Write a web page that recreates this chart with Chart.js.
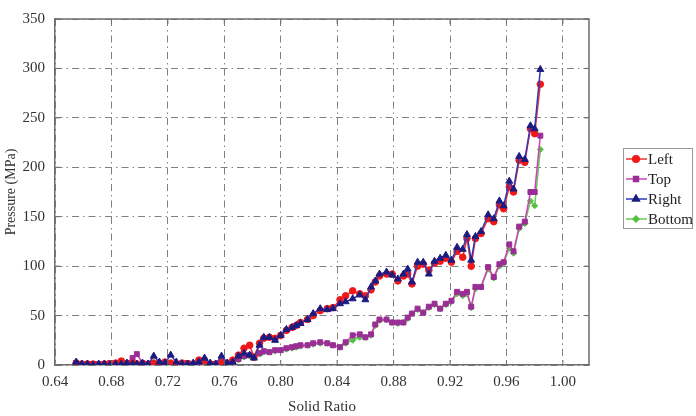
<!DOCTYPE html>
<html>
<head>
<meta charset="utf-8">
<script src="https://cdn.jsdelivr.net/npm/chart.js@4/dist/chart.umd.min.js"></script>
<style>
  html, body { margin: 0; padding: 0; background: #fff; }
</style>
</head>
<body>
<canvas id="pressureChart" width="696" height="416"></canvas>
<script>
// Solid ratio (shared x values for all four sensors)
const solidRatio = [
    0.655, 0.659, 0.663, 0.667, 0.671, 0.675, 0.679, 0.683, 0.687, 0.691,
    0.695, 0.698, 0.702, 0.706, 0.710, 0.714, 0.718, 0.722, 0.726, 0.730,
    0.734, 0.738, 0.742, 0.746, 0.750, 0.754, 0.758, 0.762, 0.766, 0.770,
    0.774, 0.778, 0.781, 0.785, 0.788, 0.792, 0.796, 0.800, 0.804, 0.808,
    0.811, 0.814, 0.819, 0.823, 0.828, 0.833, 0.837, 0.842, 0.846, 0.851,
    0.856, 0.860, 0.864, 0.867, 0.870, 0.875, 0.879, 0.883, 0.887, 0.890,
    0.893, 0.897, 0.901, 0.905, 0.909, 0.913, 0.917, 0.921, 0.925, 0.929,
    0.932, 0.935, 0.938, 0.942, 0.947, 0.951, 0.955, 0.958, 0.962, 0.965,
    0.969, 0.973, 0.977, 0.980, 0.984
];

// Pressure (MPa) per side
const leftPressure = [
    2, 1, 1, 1, 0, 1, 1, 2, 4, 1,
    2, 1, 1, 1, 2, 1, 3, 2, 1, 2,
    1, 1, 5, 4, 1, 1, 3, 2, 5, 10,
    17, 20, 8, 22, 27, 28, 27, 30, 35, 38,
    40, 43, 46, 50, 55, 57, 58, 66, 70, 75,
    72, 70, 76, 84, 90, 92, 92, 85, 90, 92,
    82, 100, 102, 96, 103, 105, 108, 104, 115, 109,
    128, 100, 128, 133, 148, 145, 162, 158, 180, 175,
    207, 205, 239, 234, 284
];
const topPressure = [
    2, 1, 1, 1, 1, 1, 2, 1, 1, 2,
    7, 11, 2, 1, 1, 2, 1, 1, 1, 1,
    2, 1, 1, 5, 1, 1, 2, 2, 3, 6,
    9, 10, 8, 12, 14, 13, 15, 15, 17, 18,
    19, 20, 20, 22, 23, 22, 20, 18, 23, 30,
    31, 28, 31, 41, 46, 46, 43, 43, 43, 48,
    52, 57, 53, 59, 62, 57, 62, 65, 74, 72,
    74, 59, 79, 79, 99, 89, 102, 104, 122, 115,
    140, 145, 175, 175, 232
];
const rightPressure = [
    3, 1, 1, 0, 1, 1, 0, 1, 1, 2,
    1, 1, 2, 1, 9, 3, 2, 10, 3, 1,
    1, 2, 3, 7, 2, 1, 9, 2, 3, 9,
    12, 10, 7, 20, 28, 28, 25, 30, 36, 38,
    40, 42, 46, 52, 57, 56, 57, 62, 64, 67,
    71, 66, 79, 85, 92, 94, 91, 87, 92, 97,
    84, 104, 104, 92, 105, 108, 111, 106, 119, 117,
    132, 106, 130, 135, 152, 148, 166, 161, 186, 178,
    211, 208, 242, 239, 299
];
const bottomPressure = [
    1, 0, 0, 0, 0, 0, 0, 0, 0, 0,
    1, 0, 0, 0, 0, 0, 0, 0, 0, 0,
    0, 0, 0, 1, 0, 0, 1, 1, 2, 5,
    8, 9, 7, 11, 13, 13, 14, 15, 16, 17,
    18, 19, 20, 21, 22, 22, 20, 18, 22, 25,
    28, 28, 30, 40, 45, 46, 43, 42, 43, 47,
    52, 56, 53, 58, 61, 57, 61, 64, 72, 70,
    72, 58, 77, 79, 97, 88, 100, 103, 118, 113,
    138, 143, 166, 161, 218
];

const seriesNames = ["Left", "Top", "Right", "Bottom"];
const xTickValues = [0.64, 0.68, 0.72, 0.76, 0.80, 0.84, 0.88, 0.92, 0.96, 1.00];

function toPoints(values) {
    return values.map((v, i) => ({ x: solidRatio[i], y: v }));
}

const serif = "'Liberation Serif', 'DejaVu Serif', serif";

// Series styles
const styles = {
    Left:   { line: "#f23030", fill: "#f01818", point: "circle",   radius: 3.3, order: 1 },
    Top:    { line: "#d040b8", fill: "#9a2e96", point: "rect",     radius: 3.5, order: 2 },
    Right:  { line: "#3038b8", fill: "#1c1c80", point: "triangle", radius: 4.0, order: 0 },
    Bottom: { line: "#66cc55", fill: "#55c044", point: "rectRot",  radius: 3.0, order: 3 }
};

const seriesValues = [leftPressure, topPressure, rightPressure, bottomPressure];

const datasets = seriesNames.map((name, i) => ({
    label: name,
    data: toPoints(seriesValues[i]),
    borderColor: styles[name].line,
    backgroundColor: styles[name].fill,
    pointBackgroundColor: styles[name].fill,
    pointBorderColor: styles[name].fill,
    pointStyle: styles[name].point,
    pointRadius: styles[name].radius,
    pointBorderWidth: 1,
    borderWidth: 1.5,
    order: styles[name].order,
    tension: 0
}));

// frame box, inward ticks, boxed legend
const framePlugin = {
    id: "frame",
    afterDatasetsDraw(chart) {
        const { ctx, chartArea: a, scales } = chart;
        ctx.save();
        ctx.strokeStyle = "#6e6e6e";
        ctx.lineWidth = 1.5;
        ctx.beginPath();
        ctx.moveTo(a.left, a.top);
        ctx.lineTo(a.right, a.top);
        ctx.lineTo(a.right, a.bottom);
        ctx.stroke();

        ctx.lineWidth = 1;
        ctx.beginPath();
        scales.x.ticks.forEach(t => {
            const px = scales.x.getPixelForValue(t.value);
            ctx.moveTo(px, a.bottom); ctx.lineTo(px, a.bottom - 5);
            ctx.moveTo(px, a.top); ctx.lineTo(px, a.top + 5);
        });
        scales.y.ticks.forEach(t => {
            const py = scales.y.getPixelForValue(t.value);
            ctx.moveTo(a.left, py); ctx.lineTo(a.left + 5, py);
            ctx.moveTo(a.right, py); ctx.lineTo(a.right - 5, py);
        });
        ctx.stroke();

        // legend
        const lx = 623, ly = 148, lw = 69, lh = 80;
        ctx.fillStyle = "#fff";
        ctx.fillRect(lx, ly, lw, lh);
        ctx.strokeStyle = "#9a9a9a";
        ctx.lineWidth = 1;
        ctx.strokeRect(lx + 0.5, ly + 0.5, lw, lh);
        ctx.font = "15px " + serif;
        ctx.textBaseline = "middle";
        ctx.textAlign = "left";
        seriesNames.forEach((name, i) => {
            const s = styles[name];
            const cy = ly + 11 + i * 20;
            ctx.strokeStyle = s.line;
            ctx.lineWidth = 1.5;
            ctx.beginPath();
            ctx.moveTo(lx + 3, cy); ctx.lineTo(lx + 24, cy);
            ctx.stroke();
            ctx.fillStyle = s.fill;
            ctx.strokeStyle = s.fill;
            Chart.helpers.drawPoint(ctx, { pointStyle: s.point, radius: s.radius, rotation: 0, borderWidth: 1 }, lx + 13, cy);
            ctx.fillStyle = "#222";
            ctx.fillText(name, lx + 25, cy + 1);
        });
        ctx.restore();
    }
};

new Chart(document.getElementById("pressureChart"), {
    type: "line",
    data: { datasets: datasets },
    plugins: [framePlugin],
    options: {
        responsive: false,
        animation: false,
        devicePixelRatio: 1,
        layout: { padding: { left: 0, top: 11, right: 107, bottom: 0 } },
        plugins: {
            legend: { display: false },
            tooltip: { enabled: false }
        },
        scales: {
            x: {
                type: "linear",
                min: 0.64,
                max: 1.0185,
                afterFit(scale) { scale.height = 51; },
                afterBuildTicks(scale) {
                    scale.ticks = xTickValues.map(v => ({ value: v }));
                },
                ticks: {
                    padding: 8,
                    color: "#333",
                    font: { family: serif, size: 15 },
                    callback: v => v.toFixed(2),
                    maxRotation: 0,
                    autoSkip: false
                },
                grid: { color: "#808080", lineWidth: 1, drawTicks: false },
                border: { display: true, color: "#6e6e6e", width: 1.5, dash: [7, 4, 1.5, 4] },
                title: {
                    display: true,
                    text: "Solid Ratio",
                    color: "#333",
                    font: { family: serif, size: 15 },
                    padding: { top: 0, bottom: 0 }
                }
            },
            y: {
                min: 0,
                max: 350,
                afterFit(scale) { scale.width = 55; },
                ticks: {
                    stepSize: 50,
                    padding: 10,
                    color: "#333",
                    font: { family: serif, size: 15 }
                },
                grid: { color: "#808080", lineWidth: 1, drawTicks: false },
                border: { display: true, color: "#6e6e6e", width: 1.5, dash: [7, 4, 1.5, 4] },
                title: {
                    display: true,
                    text: "Pressure (MPa)",
                    color: "#333",
                    font: { family: serif, size: 14 },
                    padding: { top: 3, bottom: 0 }
                }
            }
        }
    }
});
</script>
</body>
</html>
